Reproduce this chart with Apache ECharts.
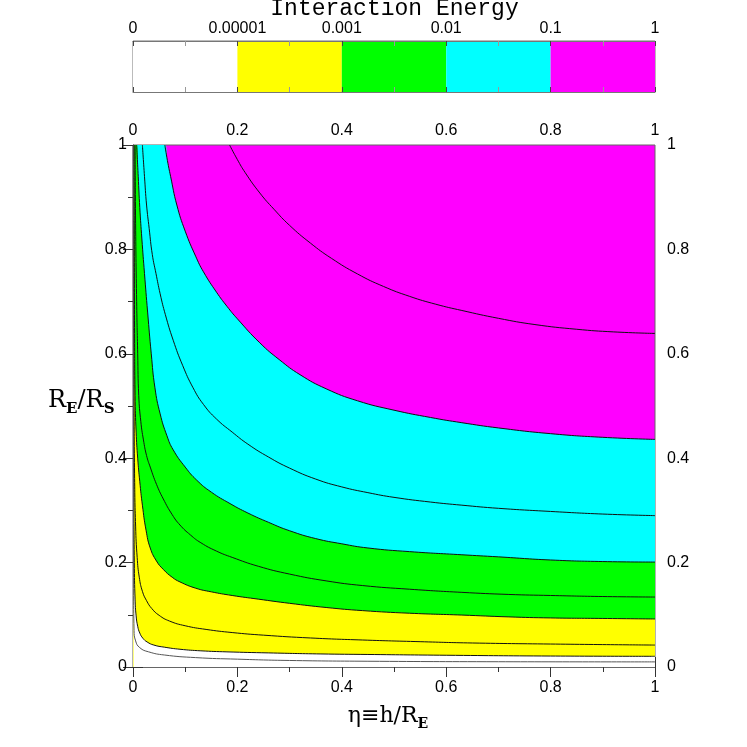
<!DOCTYPE html>
<html lang="en">
<head>
    <meta charset="UTF-8">
    <title>Interaction Energy</title>
    <script src="https://cdn.jsdelivr.net/npm/echarts@6/dist/echarts.min.js"></script>
    <style>
        html, body { margin: 0; padding: 0; background: #fff; }
    </style>
</head>
<body>
<div id="main" style="width: 747px;height:747px;"></div>
<script type="text/javascript">

    // colour bar
    var levelPos = [0, 0.2, 0.4, 0.6, 0.8, 1];
    var levelLabels = ['0', '0.00001', '0.001', '0.01', '0.1', '1'];
    var levelColors = ['#ffffff', '#ffff00', '#00ff00', '#00ffff', '#ff00ff'];

    // contour curves, [eta, RE/RS], top to bottom
    var line01 = [[0.185,1],[0.20,0.972],[0.215,0.947],[0.243,0.908],[0.27,0.877],[0.30,0.846],[0.34,0.812],[0.38,0.783],[0.43,0.753],[0.48,0.729],[0.53,0.710],[0.58,0.695],[0.63,0.683],[0.70,0.668],[0.77,0.656],[0.85,0.647],[0.92,0.642],[1.0,0.639]];
    var edge01 = [[0.061,1],[0.066,0.97],[0.072,0.94],[0.084,0.885],[0.10,0.835],[0.12,0.787],[0.135,0.757],[0.16,0.718],[0.18,0.691],[0.20,0.667],[0.243,0.621],[0.28,0.589],[0.32,0.560],[0.37,0.533],[0.43,0.510],[0.50,0.492],[0.57,0.478],[0.63,0.468],[0.70,0.458],[0.80,0.447],[0.90,0.440],[1.0,0.436]];
    var line003 = [[0.018,1],[0.022,0.94],[0.026,0.885],[0.031,0.84],[0.037,0.79],[0.044,0.754],[0.052,0.715],[0.062,0.675],[0.077,0.626],[0.095,0.578],[0.115,0.535],[0.135,0.503],[0.16,0.475],[0.19,0.450],[0.22,0.427],[0.26,0.402],[0.30,0.381],[0.35,0.360],[0.40,0.345],[0.45,0.334],[0.50,0.325],[0.57,0.316],[0.63,0.310],[0.70,0.304],[0.80,0.298],[0.90,0.293],[1.0,0.290]];
    var edge001 = [[0.007,1],[0.010,0.94],[0.013,0.88],[0.017,0.82],[0.022,0.754],[0.028,0.68],[0.035,0.60],[0.042,0.535],[0.052,0.485],[0.065,0.443],[0.077,0.416],[0.10,0.383],[0.122,0.358],[0.15,0.335],[0.186,0.313],[0.22,0.295],[0.26,0.277],[0.30,0.261],[0.35,0.246],[0.40,0.236],[0.45,0.228],[0.53,0.221],[0.63,0.215],[0.70,0.211],[0.80,0.205],[0.90,0.202],[1.0,0.201]];
    var line0003 = [[0.004,1],[0.005,0.85],[0.007,0.7],[0.009,0.6],[0.011,0.52],[0.015,0.47],[0.020,0.435],[0.026,0.405],[0.033,0.383],[0.045,0.350],[0.058,0.322],[0.075,0.292],[0.09,0.272],[0.11,0.253],[0.13,0.238],[0.16,0.222],[0.19,0.210],[0.24,0.193],[0.30,0.178],[0.37,0.165],[0.44,0.156],[0.53,0.149],[0.63,0.143],[0.72,0.139],[0.80,0.137],[0.90,0.135],[1.0,0.134]];
    var edge0001 = [[0.002,1],[0.0025,0.8],[0.003,0.65],[0.004,0.52],[0.006,0.45],[0.009,0.40],[0.013,0.355],[0.018,0.31],[0.025,0.262],[0.033,0.228],[0.045,0.203],[0.058,0.187],[0.075,0.172],[0.09,0.163],[0.12,0.151],[0.15,0.144],[0.19,0.137],[0.24,0.130],[0.30,0.122],[0.37,0.114],[0.44,0.108],[0.53,0.103],[0.63,0.0995],[0.72,0.096],[0.80,0.094],[0.90,0.093],[1.0,0.092]];
    var line00001 = [[0.001,1],[0.0015,0.7],[0.002,0.5],[0.003,0.37],[0.005,0.27],[0.008,0.21],[0.012,0.172],[0.018,0.145],[0.026,0.127],[0.036,0.112],[0.05,0.099],[0.07,0.088],[0.10,0.079],[0.14,0.072],[0.19,0.066],[0.25,0.061],[0.34,0.0556],[0.44,0.0517],[0.55,0.0485],[0.65,0.046],[0.80,0.044],[1.0,0.042]];
    var edge00001 = [[0.0008,1],[0.001,0.6],[0.0015,0.35],[0.0025,0.2],[0.004,0.13],[0.006,0.098],[0.009,0.078],[0.013,0.065],[0.019,0.055],[0.027,0.048],[0.04,0.042],[0.06,0.038],[0.09,0.034],[0.13,0.031],[0.18,0.029],[0.26,0.027],[0.36,0.025],[0.45,0.024],[0.6,0.0225],[0.8,0.021],[1.0,0.0205]];
    var line000001 = [[0.0005,1],[0.0008,0.4],[0.0012,0.15],[0.002,0.07],[0.005,0.05],[0.013,0.037],[0.03,0.029],[0.06,0.023],[0.12,0.018],[0.2,0.015],[0.3,0.0125],[0.45,0.011],[0.7,0.0101],[1.0,0.0098]];

    var fills = [
        [edge01, levelColors[3]],
        [edge001, levelColors[2]],
        [edge0001, levelColors[1]],
        [edge00001, levelColors[0]]
    ];
    var strokes = [line01, edge01, line003, edge001, line0003, edge0001, line00001, edge00001];

    var myChart = echarts.init(document.getElementById('main'));

    function valueAxis(grid, pos, margin, labelsOn) {
        return {
            type: 'value', gridIndex: grid, position: pos,
            min: 0, max: 1, interval: 0.2,
            axisLine: {show: true, lineStyle: {color: '#666', width: 1}},
            axisTick: {show: true, inside: true, length: 10, lineStyle: {color: '#333'}},
            minorTick: {show: true, splitNumber: 2, length: 5, lineStyle: {color: '#333'}},
            splitLine: {show: false},
            axisLabel: {show: labelsOn, margin: margin, color: '#000', fontFamily: 'Liberation Sans', fontSize: 16,
                formatter: function (v) { return String(+v.toFixed(1)); }}
        };
    }

    var series = [];
    fills.forEach(function (f) {
        series.push({
            type: 'line', xAxisIndex: 0, yAxisIndex: 0,
            data: [[0, 1]].concat(f[0]),
            smooth: 0.5, symbol: 'none', silent: true,
            lineStyle: {width: 0},
            areaStyle: {color: f[1], opacity: 1, origin: 'start'}
        });
    });
    strokes.forEach(function (c) {
        series.push({
            type: 'line', xAxisIndex: 0, yAxisIndex: 0,
            data: c, smooth: 0.5, symbol: 'none', silent: true,
            lineStyle: {width: 1, color: '#111'}
        });
    });
    series.push({
        type: 'line', xAxisIndex: 0, yAxisIndex: 0,
        data: line000001, smooth: 0.5, symbol: 'none', silent: true,
        lineStyle: {width: 1, color: '#555'}
    });
    for (var i = 0; i < levelColors.length; i++) {
        series.push({
            type: 'bar', xAxisIndex: 2, yAxisIndex: 2, stack: 'cb',
            barWidth: '100%', silent: true,
            itemStyle: {color: levelColors[i]},
            data: [levelPos[i + 1] - levelPos[i]]
        });
    }

    var cbTop = valueAxis(1, 'top', 4, true);
    cbTop.axisLine.lineStyle.color = '#777';
    cbTop.axisTick.length = 5;
    cbTop.axisTick.lineStyle.color = '#444';
    cbTop.minorTick.lineStyle.color = '#999';
    cbTop.axisLabel.formatter = function (v) {
        for (var k = 0; k < levelPos.length; k++) {
            if (Math.abs(levelPos[k] - v) < 1e-6) return levelLabels[k];
        }
        return '';
    };
    cbTop.z = 10;
    var cbBottom = valueAxis(1, 'bottom', 6, false);
    cbBottom.axisLine.lineStyle.color = '#777';
    cbBottom.axisTick.length = 5;
    cbBottom.axisTick.lineStyle.color = '#444';
    cbBottom.minorTick.lineStyle.color = '#999';
    cbBottom.z = 10;

    var option = {
        animation: false,
        grid: [
            {left: 133, top: 145, width: 522, height: 522, show: true, backgroundColor: '#ff00ff', borderColor: '#666', borderWidth: 1},
            {left: 133, top: 41, width: 522, height: 51, show: true, backgroundColor: '#fff', borderColor: '#777', borderWidth: 1}
        ],
        xAxis: [
            valueAxis(0, 'bottom', 13, true),
            valueAxis(0, 'top', 6, true),
            cbTop,
            cbBottom
        ],
        yAxis: [
            valueAxis(0, 'left', 6, true),
            valueAxis(0, 'right', 12, true),
            {type: 'category', gridIndex: 1, data: ['bar'], show: false}
        ],
        graphic: [
            {type: 'text', x: 394.5, y: 20, style: {
                text: 'Interaction Energy', fill: '#000', align: 'center', verticalAlign: 'bottom',
                font: '23px "Liberation Mono"'}},
            {type: 'text', x: 48, y: 389, style: {
                text: '{a|R}{s|E}{a|/R}{s|S}', fill: '#000',
                rich: {
                    a: {fontFamily: 'DejaVu Serif', fontSize: 24, lineHeight: 27, verticalAlign: 'top'},
                    s: {fontFamily: 'DejaVu Serif', fontSize: 15, fontWeight: 'bold', lineHeight: 15, padding: [13, 0, 0, 0], verticalAlign: 'top'}
                }}},
            {type: 'text', x: 388, y: 705, style: {
                text: '{a|\u03b7\u2261h/R}{s|E}', fill: '#000', align: 'center',
                rich: {
                    a: {fontFamily: 'DejaVu Serif', fontSize: 22, lineHeight: 25, verticalAlign: 'top'},
                    s: {fontFamily: 'DejaVu Serif', fontSize: 14, fontWeight: 'bold', lineHeight: 14, padding: [12, 0, 0, 0], verticalAlign: 'top'}
                }}}
        ],
        series: series
    };
    myChart.setOption(option);

</script>
</body>
</html>
